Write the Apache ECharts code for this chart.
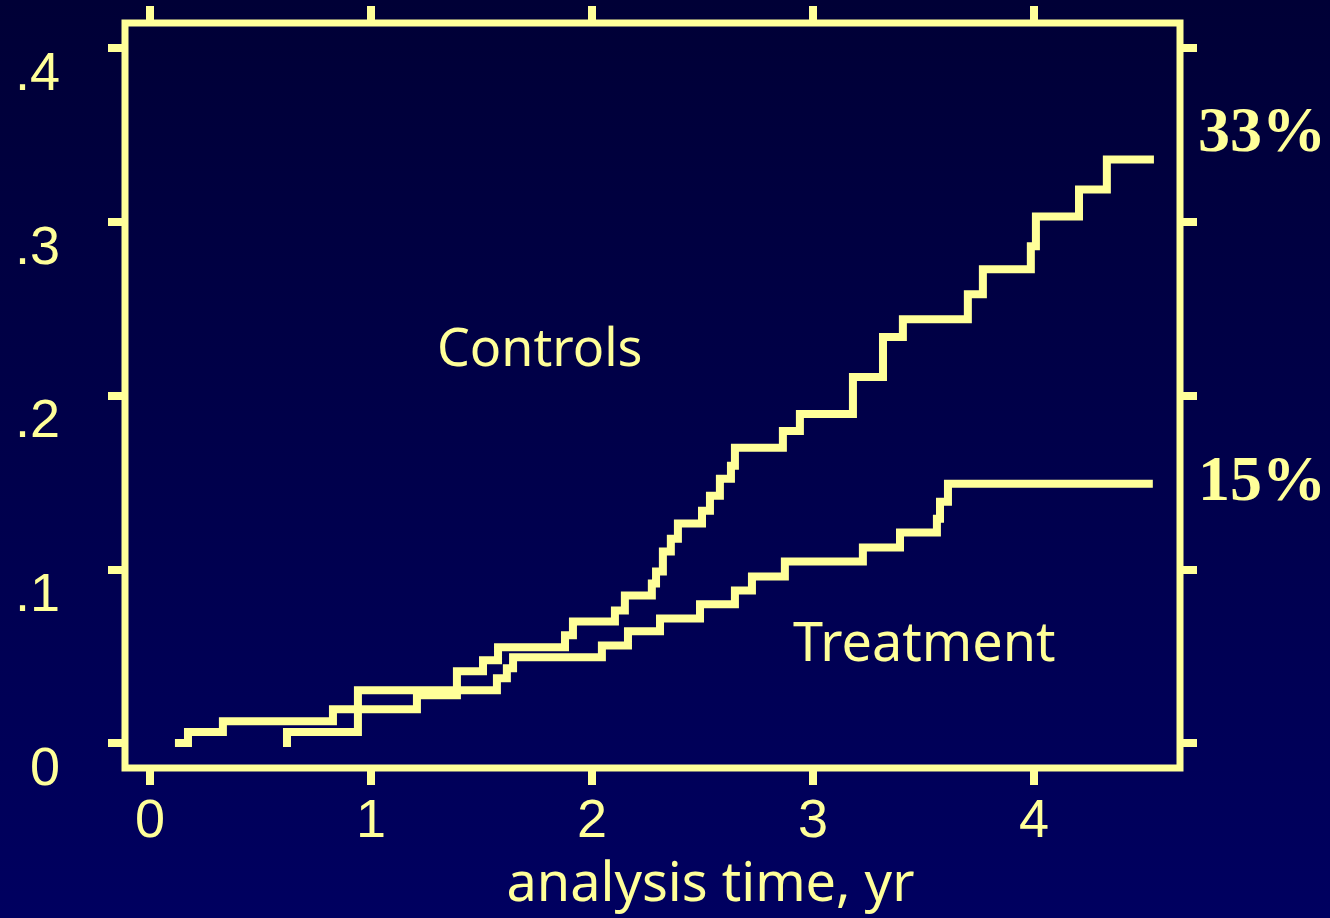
<!DOCTYPE html>
<html><head><meta charset="utf-8">
<script src="https://cdn.jsdelivr.net/npm/echarts@6/dist/echarts.min.js"></script>
<style>html,body{margin:0;padding:0;background:#000048}#chart{width:1330px;height:918px}</style>
</head><body><div id="chart"></div>
<script>
// Axis ticks and labels
const xTicks = [0, 1, 2, 3, 4];
const xTickLabels = ['0', '1', '2', '3', '4'];
const yTicks = [0, 0.1, 0.2, 0.3, 0.4];
const yTickLabels = ['0', '.1', '.2', '.3', '.4'];
const xTitle = 'analysis time, yr';

// Controls: cumulative incidence step function (time in yr, proportion)
const controlsTime = [0.113, 0.172, 0.330, 0.828, 1.208, 1.389, 1.507, 1.575, 1.878, 1.914, 2.104, 2.149, 2.271, 2.290, 2.321, 2.357, 2.389, 2.498, 2.534, 2.579, 2.629, 2.647, 2.864, 2.941, 3.181, 3.317, 3.407, 3.701, 3.769, 3.986, 4.009, 4.204, 4.330, 4.543];
const controlsRisk = [0.0, 0.0063, 0.0126, 0.0195, 0.0275, 0.0413, 0.0476, 0.0551, 0.0620, 0.0700, 0.0763, 0.0849, 0.0918, 0.0987, 0.1102, 0.1176, 0.1263, 0.1337, 0.1423, 0.1521, 0.1595, 0.1699, 0.1796, 0.1894, 0.2106, 0.2336, 0.2439, 0.2582, 0.2726, 0.2858, 0.3030, 0.3185, 0.3357, 0.3357];

// Treatment
const treatmentTime = [0.602, 0.620, 0.941, 1.570, 1.615, 1.643, 2.045, 2.163, 2.308, 2.489, 2.647, 2.724, 2.873, 3.226, 3.394, 3.561, 3.575, 3.611, 4.538];
const treatmentRisk = [0.0, 0.0063, 0.0304, 0.0373, 0.0430, 0.0494, 0.0562, 0.0643, 0.0717, 0.0798, 0.0878, 0.0958, 0.1044, 0.1125, 0.1211, 0.1291, 0.1389, 0.1492, 0.1492];

const seriesNames = ['Controls', 'Treatment'];
const endPercents = ['33%', '15%'];

const FG = '#FFFF99';
const pairs = (xs, ys) => xs.map((x, i) => [x, ys[i]]);
const labelFor = (ticks, labels) => v => {
  const i = ticks.findIndex(t => Math.abs(t - v) < 1e-9);
  return i >= 0 ? labels[i] : '';
};

const chart = echarts.init(document.getElementById('chart'), null, {renderer: 'canvas'});
const xRange = {min: -0.113, max: 4.661};
const yRange = {min: -0.01435, max: 0.4143};
const tickStyle = {show: true, inside: false, length: 17, lineStyle: {color: FG, width: 8}};
const noLine = {show: false, onZero: false};

chart.setOption({
  animation: false,
  backgroundColor: {type: 'linear', x: 0, y: 0, x2: 0, y2: 1,
    colorStops: [{offset: 0, color: '#000036'}, {offset: 1, color: '#000060'}]},
  grid: {left: 125, right: 150, top: 23, bottom: 148, show: true,
    borderColor: FG, borderWidth: 7, backgroundColor: 'transparent'},
  xAxis: [
    {type: 'value', position: 'bottom', ...xRange,
      axisLine: noLine, splitLine: {show: false},
      axisTick: {...tickStyle, customValues: xTicks},
      axisLabel: {customValues: xTicks, formatter: labelFor(xTicks, xTickLabels),
        color: FG, fontFamily: 'Liberation Sans', fontSize: 54, margin: 27},
      name: xTitle, nameLocation: 'middle', nameGap: 91,
      nameTextStyle: {color: FG, fontFamily: 'Noto Sans', fontSize: 54, padding: [0, 0, 0, 116]}},
    {type: 'value', position: 'top', ...xRange,
      axisLine: noLine, splitLine: {show: false},
      axisTick: {...tickStyle, customValues: xTicks},
      axisLabel: {show: false}}
  ],
  yAxis: [
    {type: 'value', position: 'left', ...yRange,
      axisLine: noLine, splitLine: {show: false},
      axisTick: {...tickStyle, customValues: yTicks},
      axisLabel: {customValues: yTicks, formatter: labelFor(yTicks, yTickLabels),
        color: FG, fontFamily: 'Liberation Sans', fontSize: 54, margin: 65,
        verticalAlign: 'top'}},
    {type: 'value', position: 'right', ...yRange,
      axisLine: noLine, splitLine: {show: false},
      axisTick: {...tickStyle, customValues: yTicks},
      axisLabel: {show: false}}
  ],
  series: [
    {name: seriesNames[0], type: 'line', step: 'end', showSymbol: false,
      data: pairs(controlsTime, controlsRisk),
      lineStyle: {color: FG, width: 8, cap: 'butt', join: 'miter'}},
    {name: seriesNames[1], type: 'line', step: 'end', showSymbol: false,
      data: pairs(treatmentTime, treatmentRisk),
      lineStyle: {color: FG, width: 8, cap: 'butt', join: 'miter'}}
  ],
  graphic: [
    {type: 'text', left: 437, top: 325, style: {text: seriesNames[0], fill: FG, font: '52px "Noto Sans"'}},
    {type: 'text', left: 793, top: 619, style: {text: seriesNames[1], fill: FG, font: '54px "Noto Sans"'}},
    {type: 'text', left: 1198, top: 102, style: {text: endPercents[0], fill: FG, font: 'bold 64px "Liberation Serif"'}},
    {type: 'text', left: 1198, top: 451, style: {text: endPercents[1], fill: FG, font: 'bold 64px "Liberation Serif"'}}
  ]
});
</script></body></html>
